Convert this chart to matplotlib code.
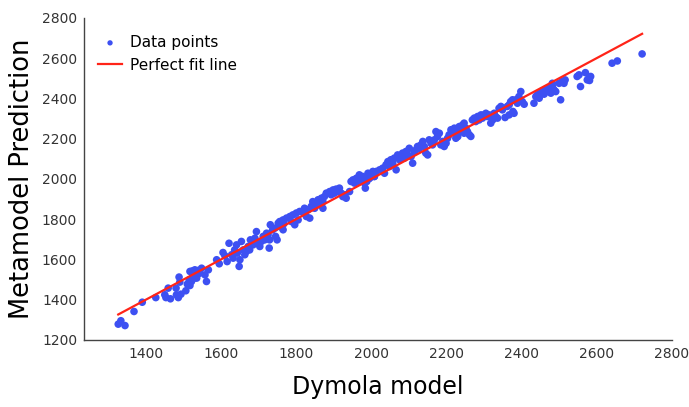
"""
Metamodel vs Dymola parity plot
Run: python plot.py -> out.png
"""
import numpy as np
import matplotlib
matplotlib.use("Agg")
import matplotlib.pyplot as plt

# ── Data ──────────────────────────────────────────────────────────
dymola = [
    1326, 1333, 1344, 1368, 1390, 1426, 1450, 1459, 1453, 1465, 1481, 1486,
    1493, 1480, 1490, 1488, 1506, 1510, 1517, 1521, 1524, 1526, 1530, 1515,
    1517, 1524, 1530, 1539, 1548, 1543, 1557, 1561, 1566, 1535, 1588, 1595,
    1605, 1610, 1616, 1621, 1628, 1632, 1636, 1641, 1643, 1648, 1650, 1654,
    1659, 1663, 1667, 1672, 1676, 1678, 1685, 1690, 1694, 1698, 1703, 1707,
    1712, 1716, 1721, 1725, 1728, 1729, 1731, 1737, 1743, 1745, 1749, 1752,
    1756, 1760, 1765, 1767,
    1756, 1765, 1774, 1783, 1791, 1787, 1800, 1805, 1809, 1818, 1822, 1827,
    1831, 1840, 1844, 1849, 1853, 1858, 1862, 1867, 1871, 1875, 1880, 1889,
    1893, 1898, 1902, 1906, 1911, 1915, 1920, 1924, 1929, 1933, 1942, 1946,
    1951, 1955, 1960, 1964, 1968, 1973, 1977, 1982, 1984, 1988, 1991, 1995,
    1999, 2004, 2008, 1796, 1836, 1871,
    1995, 2004, 2013, 2008, 2022, 2030, 2035, 2039, 2044, 2048, 2052, 2057,
    2061, 2066, 2070, 2075, 2079, 2083, 2088, 2092, 2097, 2101, 2106, 2110,
    2114, 2119, 2123, 2128, 2132, 2137, 2141, 2145, 2150, 2154, 2159, 2163,
    2168, 2172, 2176, 2181, 2185, 2190, 2194, 2199, 2203, 2207, 2212, 2216,
    2221, 2225, 2230, 2234, 2238, 2243, 2247,
    2234, 2238, 2243, 2247, 2252, 2256, 2261, 2265, 2269, 2274, 2278, 2283,
    2287, 2292, 2296, 2300, 2305, 2309, 2314, 2318, 2323, 2327, 2331, 2336,
    2340, 2345, 2349, 2356, 2362, 2367, 2371, 2376, 2377, 2380, 2385, 2389,
    2393, 2398, 2402, 2407, 2433, 2438, 2442, 2447, 2451, 2455, 2460, 2464,
    2469, 2473, 2478, 2482, 2486, 2367,
    2473, 2477, 2482, 2486, 2491, 2500, 2508, 2513, 2516, 2504, 2548, 2553,
    2557, 2570, 2575, 2579, 2584, 2581, 2641, 2655, 2721,
]
metamodel = [
    1278, 1295, 1271, 1341, 1387, 1410, 1424, 1457, 1410, 1404, 1424, 1410,
    1427, 1457, 1487, 1512, 1444, 1477, 1470, 1490, 1543, 1523, 1507, 1498,
    1540, 1528, 1548, 1545, 1556, 1531, 1523, 1490, 1548, 1507, 1598, 1578,
    1634, 1618, 1589, 1680, 1623, 1606, 1647, 1672, 1631, 1565, 1598, 1689,
    1647, 1623, 1639, 1664, 1647, 1697, 1672, 1705, 1738, 1680, 1664, 1689,
    1714, 1697, 1730, 1722, 1656, 1697, 1772, 1747, 1755, 1714, 1697, 1780,
    1763, 1788, 1747, 1777,
    1788, 1796, 1805, 1813, 1821, 1788, 1830, 1796, 1838, 1833, 1854, 1813,
    1846, 1863, 1887, 1854, 1879, 1896, 1871, 1904, 1887, 1912, 1929, 1937,
    1921, 1945, 1929, 1949, 1937, 1954, 1929, 1912, 1921, 1904, 1937, 1987,
    1995, 1979, 2003, 1987, 2020, 1995, 2012, 1979, 1954, 1987, 2028, 2003,
    2020, 2037, 2012, 1772, 1805, 1854,
    2003, 2028, 2037, 2012, 2045, 2053, 2028, 2070, 2086, 2061, 2095, 2078,
    2103, 2045, 2119, 2095, 2111, 2128, 2103, 2136, 2119, 2152, 2111, 2078,
    2136, 2144, 2161, 2152, 2169, 2186, 2161, 2128, 2119, 2194, 2177, 2169,
    2194, 2235, 2210, 2227, 2169, 2186, 2161, 2177, 2202, 2219, 2244, 2235,
    2252, 2202, 2210, 2235, 2252, 2244, 2227,
    2260, 2244, 2268, 2277, 2252, 2235, 2219, 2211, 2293, 2302, 2285, 2310,
    2293, 2318, 2302, 2318, 2326, 2310, 2318, 2277, 2293, 2326, 2310, 2302,
    2351, 2360, 2343, 2305, 2360, 2368, 2384, 2393, 2335, 2326, 2393, 2376,
    2409, 2434, 2384, 2371, 2376, 2409, 2418, 2401, 2426, 2437, 2421, 2442,
    2434, 2451, 2426, 2475, 2442, 2318,
    2451, 2434, 2459, 2442, 2434, 2475, 2484, 2475, 2492, 2393, 2509, 2517,
    2459, 2528, 2492, 2500, 2509, 2489, 2575, 2586, 2621,
]

x_ticks = [1400, 1600, 1800, 2000, 2200, 2400, 2600, 2800]
y_ticks = [1200, 1400, 1600, 1800, 2000, 2200, 2400, 2600, 2800]

# ── Plot ──────────────────────────────────────────────────────────
fig = plt.figure(figsize=(6.89, 4.07), dpi=100)
ax = fig.add_axes([0.122, 0.165, 0.853, 0.791])

ax.scatter(dymola, metamodel, s=30, color="#3d50f2", edgecolors="none",
           label="Data points", zorder=2)
lo, hi = min(dymola), max(dymola)
ax.plot([lo, hi], [lo, hi], color="#ff2418", linewidth=1.6,
        label="Perfect fit line", zorder=3)

ax.set_xlim(1235, 2800)
ax.set_ylim(1200, 2800)
ax.set_xticks(x_ticks)
ax.set_yticks(y_ticks)
ax.tick_params(length=0, labelsize=10, labelcolor="#333333", pad=5)

for side in ["top", "right"]:
    ax.spines[side].set_visible(False)
for side in ["left", "bottom"]:
    ax.spines[side].set_color("#444444")
    ax.spines[side].set_linewidth(1.0)

ax.set_xlabel("Dymola model", fontsize=17, labelpad=10)
ax.set_ylabel("Metamodel Prediction", fontsize=18.5, labelpad=5)

ax.legend(loc="upper left", bbox_to_anchor=(0.0, 0.99), frameon=False,
          fontsize=11, handlelength=1.6, handletextpad=0.5, markerscale=0.7)

fig.savefig("out.png", dpi=100)
plt.close()
